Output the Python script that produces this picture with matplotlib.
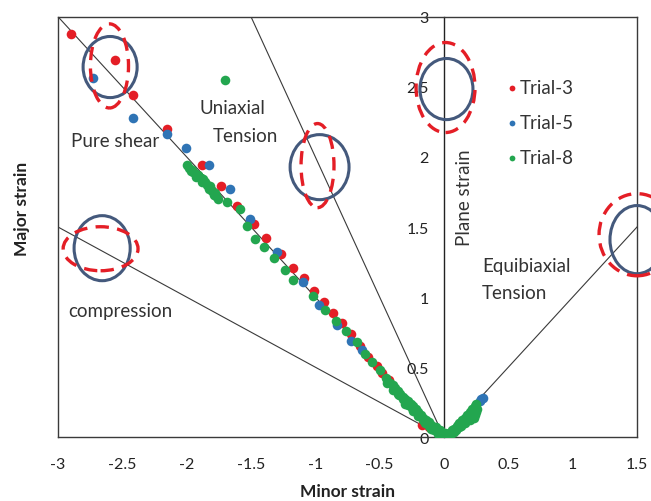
import matplotlib
matplotlib.use("Agg")
import matplotlib.pyplot as plt
from matplotlib.patches import Ellipse

plt.rcParams['font.family'] = ['Lato', 'DejaVu Sans']

# Forming-limit strain data (minor, major) for each trial
trial3_minor = [-2.90, -2.56, -2.42, -2.15, -1.88, -1.735, -1.61, -1.475, -1.38, -1.27,
                -1.175, -1.09, -1.01, -0.93, -0.86, -0.79, -0.725, -0.655, -0.59, -0.52,
                -0.48, -0.43, -0.17, -0.12, 0.0]
trial3_major = [2.88, 2.69, 2.44, 2.20, 1.94, 1.79, 1.65, 1.52, 1.42, 1.31,
                1.21, 1.135, 1.045, 0.965, 0.89, 0.815, 0.74, 0.65, 0.57, 0.505,
                0.46, 0.41, 0.09, 0.07, 0.0]

trial5_minor = [-2.73, -2.42, -2.155, -2.005, -1.83, -1.665, -1.505, -1.295, -1.095, -0.97,
                -0.83, -0.72, -0.64, -0.39, -0.19, 0.0, 0.28, 0.29, 0.30]
trial5_major = [2.56, 2.28, 2.16, 2.065, 1.945, 1.77, 1.56, 1.325, 1.11, 0.945,
                0.80, 0.69, 0.62, 0.35, 0.15, 0.0, 0.26, 0.27, 0.28]

trial8_minor = [-1.705,
                -2.00, -1.98, -1.96, -1.95, -1.93, -1.91, -1.89, -1.87, -1.86, -1.84,
                -1.82, -1.80, -1.78, -1.77, -1.76, -1.97, -1.93, -1.88, -1.83, -1.79,
                -1.685, -1.585, -1.535, -1.47, -1.40, -1.32, -1.235, -1.17, -1.015, -0.925,
                -0.84, -0.765, -0.68, -0.615, -0.56, -0.50,
                -0.45, -0.42, -0.40, -0.38, -0.36, -0.34, -0.32, -0.30, -0.28, -0.26,
                -0.24, -0.22, -0.20, -0.18, -0.16, -0.14, -0.12, -0.10, -0.08, -0.06,
                -0.04, -0.02, 0.0,
                -0.44, -0.40, -0.36, -0.32, -0.28, -0.24, -0.20, -0.16, -0.12, -0.08,
                -0.04, -0.35, -0.30, -0.25, -0.20, -0.15, -0.10, -0.05, -0.02, 0.02,
                0.04, -0.06, -0.03, 0.01,
                0.02, 0.04, 0.06, 0.08, 0.10, 0.12, 0.14, 0.16, 0.18, 0.20,
                0.22, 0.24, 0.25,
                0.05, 0.08, 0.12, 0.16, 0.20, 0.23, 0.22, 0.25, 0.26,
                0.03, 0.06, 0.09, 0.11, 0.13, 0.15, 0.17, 0.19, 0.21, 0.24, 0.23]
trial8_major = [2.55,
                1.94, 1.92, 1.91, 1.89, 1.88, 1.87, 1.85, 1.84, 1.82, 1.80,
                1.79, 1.76, 1.74, 1.72, 1.70, 1.90, 1.86, 1.82, 1.77, 1.73,
                1.675, 1.625, 1.505, 1.415, 1.355, 1.28, 1.19, 1.12, 1.01, 0.91,
                0.83, 0.755, 0.68, 0.595, 0.54, 0.48,
                0.42, 0.39, 0.37, 0.35, 0.33, 0.31, 0.29, 0.27, 0.26, 0.24,
                0.22, 0.20, 0.18, 0.16, 0.14, 0.12, 0.11, 0.09, 0.07, 0.05,
                0.035, 0.02, 0.0,
                0.39, 0.34, 0.31, 0.27, 0.23, 0.19, 0.16, 0.12, 0.08, 0.05,
                0.02, 0.30, 0.24, 0.21, 0.15, 0.10, 0.06, 0.02, 0.0, 0.0,
                0.01, 0.07, 0.05, 0.03,
                0.02, 0.03, 0.05, 0.06, 0.08, 0.10, 0.12, 0.14, 0.16, 0.18,
                0.20, 0.22, 0.235,
                0.02, 0.04, 0.07, 0.10, 0.12, 0.14, 0.17, 0.18, 0.20,
                0.01, 0.03, 0.05, 0.09, 0.08, 0.11, 0.12, 0.15, 0.14, 0.16, 0.19]

# Strain-path reference lines (end points, from the origin)
path_minor = [-3.0, -1.5, -3.0, 1.5]
path_major = [3.0, 3.0, 1.5, 1.5]

x_ticks = [-3, -2.5, -2, -1.5, -1, -0.5, 0, 0.5, 1, 1.5]
x_labels = ['-3', '-2.5', '-2', '-1.5', '-1', '-0.5', '0', '0.5', '1', '1.5']
y_ticks = [0, 0.5, 1, 1.5, 2, 2.5, 3]
y_labels = ['0', '0.5', '1', '1.5', '2', '2.5', '3']

RED = '#E41E26'
BLUE = '#2F74B5'
GREEN = '#23A64F'
RING = '#44597C'
LINE = '#3A3A3A'

fig = plt.figure(figsize=(6.51, 5.02), dpi=100)
ax = fig.add_axes([0.0891, 0.1269, 0.8894, 0.8378])
ax.set_xlim(-3, 1.5)
ax.set_ylim(0, 3)

# reference strain paths
for px, py in zip(path_minor, path_major):
    ax.plot([0, px], [0, py], color=LINE, lw=0.8, zorder=1)

ms = 48
ax.scatter(trial3_minor, trial3_major, s=ms, color=RED, label='Trial-3', zorder=3, linewidths=0)
ax.scatter(trial5_minor, trial5_major, s=ms, color=BLUE, label='Trial-5', zorder=4, linewidths=0)
ax.scatter(trial8_minor, trial8_major, s=ms, color=GREEN, label='Trial-8', zorder=5, linewidths=0)

# frame: y axis sits on minor strain = 0, box drawn around the plot area
for side in ['top', 'right', 'bottom']:
    ax.spines[side].set_color(LINE)
    ax.spines[side].set_linewidth(1.0)
ax.spines['left'].set_position(('data', 0))
ax.spines['left'].set_color('#222222')
ax.spines['left'].set_linewidth(1.0)
ax.plot([-3, -3], [0, 3], color=LINE, lw=1.0, clip_on=False, zorder=2)

ax.set_xticks(x_ticks)
ax.set_xticklabels(x_labels)
ax.set_yticks(y_ticks)
ax.set_yticklabels(y_labels)
ax.tick_params(axis='x', length=0, pad=14, labelsize=11.5, colors='#222222')
ax.tick_params(axis='y', length=0, pad=11, labelsize=11.5, colors='#222222')

ax.set_xlabel('Minor strain', fontsize=12.5, fontweight='bold', color='#222222')
ax.xaxis.set_label_coords(0.5, -0.108)
ax.set_ylabel('Major strain', fontsize=12.5, fontweight='bold', color='#222222')
ax.yaxis.set_label_coords(-0.048, 0.545)

# region annotations
tkw = dict(fontsize=13.5, color='#333333', va='center', ha='left')
ax.text(-2.898, 2.116, 'Pure shear', **tkw)
ax.text(-1.904, 2.352, 'Uniaxial', **tkw)
ax.text(-1.795, 2.152, 'Tension', **tkw)
ax.text(0.163, 1.716, 'Plane strain', rotation=90, fontsize=13.5, color='#333333',
        va='center', ha='center')
ax.text(0.295, 1.224, 'Equibiaxial', **tkw)
ax.text(0.295, 1.031, 'Tension', **tkw)
ax.text(-2.921, 0.902, 'compression', **tkw)

# highlight rings: (centre x, centre y, width, height)
rings = [(-2.595, 2.641, 0.42, 0.436), (-0.967, 1.927, 0.458, 0.464),
         (0.019, 2.484, 0.412, 0.436), (1.5, 1.41, 0.42, 0.486),
         (-2.657, 1.349, 0.436, 0.464)]
dashed = [(-2.60, 2.649, 0.296, 0.60), (-0.983, 1.938, 0.256, 0.60),
          (0.012, 2.495, 0.458, 0.642), (1.5, 1.445, 0.59, 0.586),
          (-2.669, 1.345, 0.582, 0.314)]
for cx, cy, w, h in rings:
    ax.add_patch(Ellipse((cx, cy), w, h, fill=False, edgecolor=RING, lw=2.2,
                         zorder=6, clip_on=False))
for cx, cy, w, h in dashed:
    ax.add_patch(Ellipse((cx, cy), w, h, fill=False, edgecolor=RED, lw=2.4,
                         linestyle=(0, (4, 2.5)), zorder=7, clip_on=False))

leg = ax.legend(loc='upper left', bbox_to_anchor=(0.764, 0.87), frameon=False,
                fontsize=13.5, handlelength=0.4, handletextpad=0.25, labelspacing=0.95,
                markerscale=0.6, borderaxespad=0)
for t in leg.get_texts():
    t.set_color('#333333')

fig.savefig('out.png', dpi=100)
